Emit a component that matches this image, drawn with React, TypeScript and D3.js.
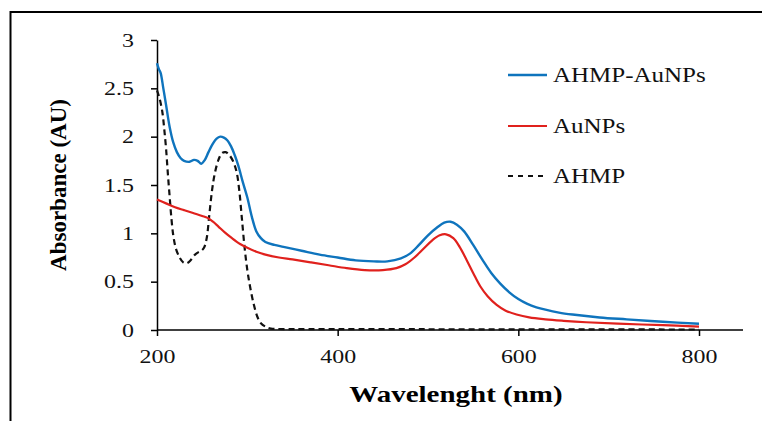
import React, { useEffect, useRef } from 'react';
import * as d3 from 'd3';

// wavelength (nm) / absorbance readings
const blueNm = [200, 202, 204, 207, 210, 214, 218, 222, 226, 230, 236, 241, 245, 249, 253, 257, 262, 266, 270, 274, 278, 282, 286, 290, 295, 300, 305, 310, 315, 320, 330, 340, 360, 380, 400, 420, 440, 455, 470, 480, 490, 500, 510, 518, 525, 532, 540, 550, 560, 570, 580, 590, 600, 610, 620, 630, 645, 660, 690, 720, 760, 800];
const blueAbs = [2.76, 2.7, 2.66, 2.5, 2.33, 2.1, 1.94, 1.84, 1.78, 1.75, 1.74, 1.76, 1.75, 1.72, 1.76, 1.84, 1.93, 1.98, 2.0, 1.99, 1.96, 1.9, 1.81, 1.7, 1.53, 1.37, 1.17, 1.02, 0.95, 0.91, 0.88, 0.86, 0.82, 0.78, 0.75, 0.72, 0.71, 0.71, 0.74, 0.79, 0.88, 0.98, 1.06, 1.11, 1.12, 1.09, 1.02, 0.88, 0.73, 0.59, 0.48, 0.39, 0.32, 0.27, 0.235, 0.21, 0.18, 0.16, 0.13, 0.11, 0.085, 0.065];

const redNm = [200, 210, 220, 230, 240, 250, 256, 262, 268, 275, 283, 292, 300, 310, 320, 335, 350, 370, 390, 410, 430, 450, 465, 475, 485, 495, 505, 513, 520, 528, 535, 543, 550, 558, 566, 576, 586, 598, 612, 630, 650, 675, 710, 760, 800];
const redAbs = [1.35, 1.31, 1.27, 1.24, 1.21, 1.18, 1.16, 1.12, 1.07, 1.01, 0.95, 0.89, 0.85, 0.81, 0.78, 0.75, 0.73, 0.7, 0.67, 0.64, 0.62, 0.62, 0.64, 0.68, 0.75, 0.84, 0.93, 0.98, 0.99, 0.95, 0.86, 0.72, 0.59, 0.45, 0.35, 0.26, 0.2, 0.16, 0.13, 0.11, 0.095, 0.08, 0.065, 0.05, 0.035];

const blackNm = [200, 203, 206, 208, 210, 212, 214, 216, 218, 221, 225, 229, 233, 237, 241, 245, 249, 252, 255, 258, 261, 264, 268, 272, 276, 280, 284, 288, 291, 294, 297, 300, 303, 307, 311, 315, 320, 326, 340, 400, 500, 600, 700, 800];
const blackAbs = [2.48, 2.39, 2.25, 2.08, 1.88, 1.62, 1.38, 1.15, 0.98, 0.84, 0.75, 0.7, 0.69, 0.72, 0.77, 0.8, 0.82, 0.85, 0.95, 1.2, 1.45, 1.62, 1.76, 1.83, 1.84, 1.81, 1.75, 1.64, 1.45, 1.15, 0.85, 0.62, 0.45, 0.27, 0.14, 0.07, 0.035, 0.015, 0.01, 0.01, 0.008, 0.007, 0.006, 0.005];

const xTicks = [200, 400, 600, 800];
const yTicks = [0, 0.5, 1, 1.5, 2, 2.5, 3];
const seriesNames = ['AHMP-AuNPs', 'AuNPs', 'AHMP'];

const W = 762, H = 421;
const FONT = '"Liberation Serif", "Times New Roman", serif';
const SX = 1.26; // picture is stretched sideways

export default function App() {
  const svgRef = useRef<SVGSVGElement | null>(null);

  useEffect(() => {
    const svg = d3.select(svgRef.current);
    svg.selectAll('*').remove();

    const x = d3.scaleLinear().domain([200, 800]).range([157, 699]);
    const y = d3.scaleLinear().domain([0, 3]).range([330, 40]);

    // outer frame (only top and left edges are in view)
    svg.append('rect')
      .attr('x', 10.5).attr('y', 12).attr('width', 800).attr('height', 500)
      .attr('fill', 'none').attr('stroke', '#000').attr('stroke-width', 2);

    // y axis
    const yAxis = svg.append('g').attr('transform', 'translate(157,0)')
      .call(d3.axisLeft(y).tickValues(yTicks).tickSize(6).tickSizeOuter(0).tickFormat(d => String(d)));
    yAxis.select('.domain').attr('stroke-width', 1.5);
    yAxis.selectAll('.tick line').attr('stroke-width', 1.5);
    yAxis.selectAll('.tick text')
      .attr('x', null).attr('dy', null)
      .attr('transform', 'translate(-23,6) scale(' + SX + ',1)')
      .attr('font-family', FONT).attr('font-size', 19).attr('fill', '#111');

    // x axis
    const xAxis = svg.append('g').attr('transform', 'translate(0,330)')
      .call(d3.axisBottom(x).tickValues(xTicks).tickSize(6).tickSizeOuter(0).tickFormat(d => String(d)));
    xAxis.select('.domain').remove();
    xAxis.selectAll('.tick line').attr('stroke-width', 1.5);
    xAxis.selectAll('.tick text')
      .attr('y', null).attr('dy', null)
      .attr('transform', 'translate(0,33) scale(' + SX + ',1)')
      .attr('font-family', FONT).attr('font-size', 19).attr('fill', '#111');
    xAxis.append('line')
      .attr('x1', x(200)).attr('x2', 743).attr('y1', 0).attr('y2', 0)
      .attr('stroke', '#000').attr('stroke-width', 1.5);

    // axis titles
    svg.append('text')
      .attr('transform', 'translate(456,402) scale(' + SX + ',1)')
      .attr('text-anchor', 'middle')
      .attr('font-family', FONT).attr('font-size', 23).attr('font-weight', 'bold')
      .text('Wavelenght (nm)');
    svg.append('text')
      .attr('transform', 'translate(66,185) rotate(-90)')
      .attr('text-anchor', 'middle')
      .attr('font-family', FONT).attr('font-size', 23).attr('font-weight', 'bold')
      .text('Absorbance (AU)');

    const line = d3.line<[number, number]>()
      .x(d => x(d[0])).y(d => y(d[1]))
      .curve(d3.curveCatmullRom.alpha(0.5));

    const series = [
      { nm: blueNm, abs: blueAbs, color: '#0f74bd', width: 2.4, dash: null },
      { nm: redNm, abs: redAbs, color: '#e0211d', width: 2.2, dash: null },
      { nm: blackNm, abs: blackAbs, color: '#111', width: 2.2, dash: '6,4' },
    ];

    series.slice().reverse().forEach(s => {
      const pts = s.nm.map((n, i) => [n, s.abs[i]] as [number, number]);
      svg.append('path')
        .attr('d', line(pts))
        .attr('fill', 'none')
        .attr('stroke', s.color)
        .attr('stroke-width', s.width)
        .attr('stroke-dasharray', s.dash);
    });

    // legend
    const legY = [75, 126, 176];
    series.forEach((s, i) => {
      svg.append('line')
        .attr('x1', 508).attr('x2', 547).attr('y1', legY[i]).attr('y2', legY[i])
        .attr('stroke', s.color).attr('stroke-width', s.width)
        .attr('stroke-dasharray', s.dash ? '5,5' : null);
      svg.append('text')
        .attr('transform', 'translate(553,' + (legY[i] + 7) + ') scale(1.25,1)')
        .attr('font-family', FONT).attr('font-size', 20).attr('fill', '#111')
        .text(seriesNames[i]);
    });
  }, []);

  return (
    <svg ref={svgRef} width={W} height={H}
      style={{ position: 'absolute', left: 0, top: 0, background: '#fff' }} />
  );
}
